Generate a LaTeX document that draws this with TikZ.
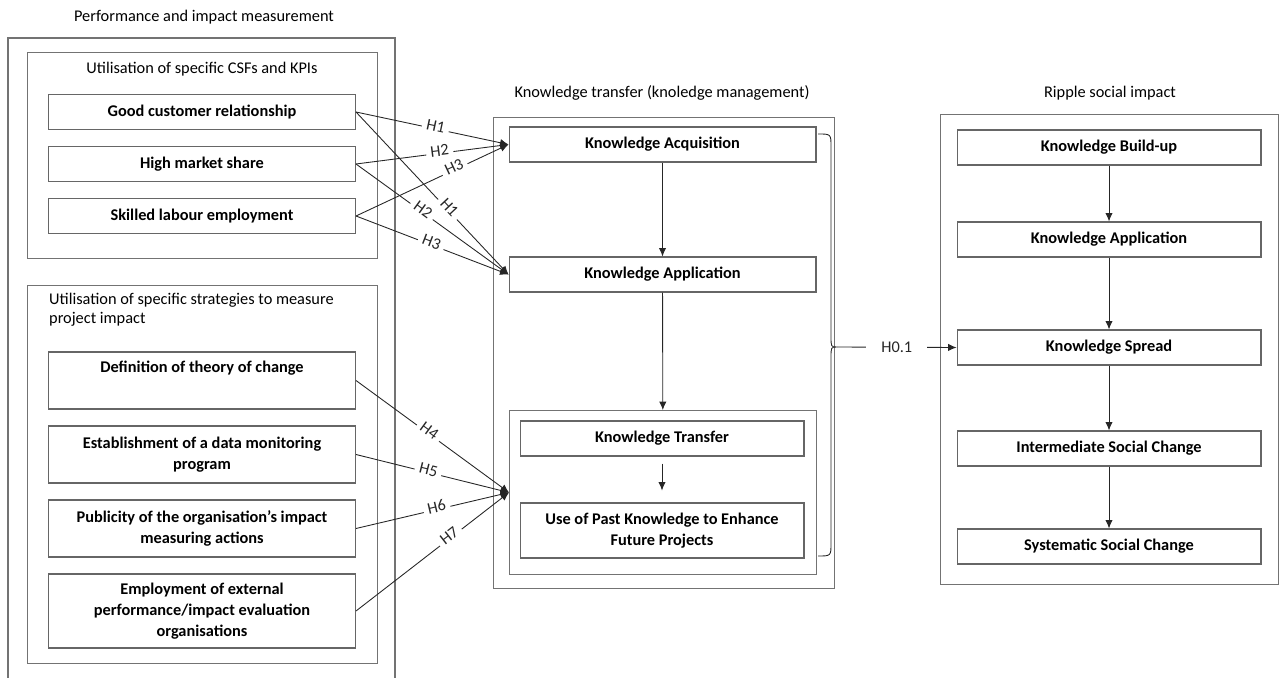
\documentclass[tikz,border=0pt]{standalone}
\usepackage{fontspec}
\setmainfont{Carlito}
\usetikzlibrary{arrows,arrows.meta,positioning,calc}

\begin{document}
\begin{tikzpicture}[
    x=0.02cm, y=-0.02cm,
    font=\fontsize{9.3}{11.5}\selectfont,
    frame/.style={rectangle, draw=black!55, line width=0.6pt, anchor=north west, inner sep=0pt},
    box/.style={rectangle, draw=black!60, line width=0.6pt, minimum width=6.14cm, minimum height=0.7cm, align=center, font=\fontsize{9.3}{11.9}\selectfont\bfseries},
    subbox/.style={box, minimum width=5.68cm},
    rbox/.style={box, minimum width=6.08cm},
    title/.style={font=\fontsize{9.3}{11}\selectfont},
    arrow/.style={-{Latex[length=4.8pt,width=4.2pt]}, line width=0.5pt, black!85},
    hlab/.style={fill=white, inner xsep=2.5pt, inner ysep=0.5pt, sloped, yshift=1.5pt, font=\fontsize{9.3}{11}\selectfont},
]
\useasboundingbox (0,0) rectangle (1280,678);

% performance and impact measurement
\node[title] (pimtitle) at (204,17) {Performance and impact measurement};
\draw[draw=black!55, line width=0.6pt] (8,678) |- (395,38) -- (395,678);

\node[frame, minimum width=7cm, minimum height=4.12cm] (csfframe) at (27,52) {};
\node[title] (csftitle) at (202,69) {Utilisation of specific CSFs and KPIs};
\node[box] (gcr) at (202,112) {Good customer relationship};
\node[box] (hms) at (202,164) {High market share};
\node[box] (sle) at (202,216) {Skilled labour employment};

\node[frame, minimum width=7cm, minimum height=7.56cm] (stratframe) at (27,285) {};
\node[title, anchor=west, align=left] (strattitle) at (43,310) {Utilisation of specific strategies to measure\\project impact};
\node[box, minimum height=1.14cm, text depth=0.55cm] (toc) at (202,380.5) {Definition of theory of change};
\node[box, minimum height=1.14cm] (dmp) at (202,454.5) {Establishment of a data monitoring\\program};
\node[box, minimum height=1.14cm] (pub) at (202,528.5) {Publicity of the organisation's impact\\measuring actions};
\node[box, minimum height=1.48cm] (ext) at (202,611) {Employment of external\\performance/impact evaluation\\organisations};

% knowledge transfer
\node[title] (kmtitle) at (662,93) {Knowledge transfer (knoledge management)};
\node[frame, minimum width=6.82cm, minimum height=9.42cm] (kmframe) at (493,117) {};
\node[box] (acq) at (662.5,144.5) {Knowledge Acquisition};
\node[box] (app) at (662.5,274.5) {Knowledge Application};
\node[frame, minimum width=6.14cm, minimum height=3.28cm] (ktframe) at (509,410) {};
\node[subbox] (kt) at (662,438.5) {Knowledge Transfer};
\node[subbox, minimum height=1.1cm] (past) at (662,530.5) {Use of Past Knowledge to Enhance\\Future Projects};

\draw[arrow] (acq) -- (app);
\draw[arrow] (app) -- (ktframe);
\draw[arrow, shorten <=0.14cm, shorten >=0.24cm] (kt) -- (past);

% ripple social impact
\node[title] (rsititle) at (1110,93) {Ripple social impact};
\node[frame, minimum width=6.76cm, minimum height=9.4cm] (rsiframe) at (940,114) {};
\node[rbox] (kbu) at (1109,147.5) {Knowledge Build-up};
\node[rbox] (kap) at (1109,239.5) {Knowledge Application};
\node[rbox] (ksp) at (1109,347.5) {Knowledge Spread};
\node[rbox] (isc) at (1109,448.5) {Intermediate Social Change};
\node[rbox] (ssc) at (1109,546.5) {Systematic Social Change};

\draw[arrow] (kbu) -- (kap);
\draw[arrow] (kap) -- (ksp);
\draw[arrow] (ksp) -- (isc);
\draw[arrow] (isc) -- (ssc);

% hypotheses
\draw[arrow] (gcr.east) -- node[hlab, pos=0.52] {H1} (acq.west);
\draw[arrow] (hms.east) -- node[hlab, pos=0.55] {H2} (acq.west);
\draw[arrow] (sle.east) -- node[hlab, pos=0.65] {H3} (acq.west);
\draw[arrow] (gcr.east) -- node[hlab, pos=0.6] {H1} (app.west);
\draw[arrow] (hms.east) -- node[hlab, pos=0.43] {H2} (app.west);
\draw[arrow] (sle.east) -- node[hlab, pos=0.49] {H3} (app.west);

\draw[arrow] (toc.east) -- node[hlab, pos=0.47] {H4} (ktframe.west);
\draw[arrow] (dmp.east) -- node[hlab, pos=0.47] {H5} (ktframe.west);
\draw[arrow] (pub.east) -- node[hlab, pos=0.53] {H6} (ktframe.west);
\draw[arrow] (ext.east) -- node[hlab, pos=0.62] {H7} (ktframe.west);

% brace to ripple impact
\coordinate (brtip) at (837,347);
\draw[line width=0.5pt, black!85] (818,134) .. controls (831,134) .. (831,147) -- (831,336) .. controls (831,347) .. (brtip) .. controls (831,347) .. (831,358) -- (831,543) .. controls (831,556) .. (818,556);
\draw[arrow] (brtip) -- node[fill=white, inner xsep=0.3cm] {H0.1} (ksp.west);
\end{tikzpicture}
\end{document}
